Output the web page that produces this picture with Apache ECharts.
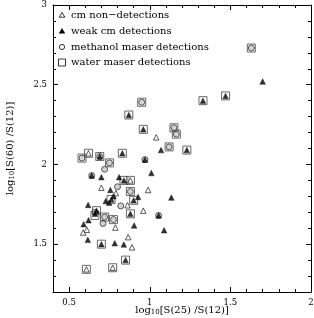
<!DOCTYPE html>
<html><head><meta charset="utf-8">
<script src="https://cdn.jsdelivr.net/npm/echarts@6/dist/echarts.min.js"></script>
<style>html,body{margin:0;padding:0;background:#fff}#c{width:314px;height:318px}</style>
</head><body><div id="c"></div>
<script>
// ---- data ----
const seriesNames = ['cm non\u2212detections', 'weak cm detections', 'methanol maser detections', 'water maser detections'];
const xMajorTicks = [0.5, 1, 1.5, 2];
const yMajorTicks = [1.5, 2, 2.5, 3];
const xRange = [0.4, 2.0];
const yRange = [1.2, 3.0];

const cmNonDetections = [
  [1.04,2.17],[0.62,2.07],[0.70,1.854],[0.88,1.90],[0.99,1.84],[0.79,1.82],[0.862,1.744],
  [0.96,1.71],[0.787,1.604],[0.61,1.59],[0.587,1.573],[0.866,1.544],[0.89,1.48],
  [0.77,1.352],[0.607,1.342]
];
const weakCmDetections = [
  [1.70,2.52],[1.47,2.43],[1.33,2.40],[0.87,2.31],[0.96,2.22],[1.23,2.09],[1.07,2.09],
  [0.83,2.07],[0.69,2.05],[0.97,2.03],[1.01,1.946],[0.64,1.93],[0.70,1.92],[0.81,1.92],
  [0.84,1.90],[0.756,1.84],[0.775,1.80],[0.727,1.77],[0.748,1.76],[0.762,1.78],[0.90,1.775],
  [0.928,1.796],[1.134,1.792],[0.88,1.69],[1.055,1.68],[0.618,1.746],[0.67,1.71],[0.66,1.69],
  [0.903,1.617],[1.089,1.587],[0.62,1.65],[0.59,1.625],[0.616,1.527],[0.70,1.50],
  [0.783,1.506],[0.839,1.498],[0.85,1.40]
];
const methanolMaser = [
  [1.63,2.73],[0.95,2.39],[1.15,2.23],[1.165,2.19],[1.12,2.11],[0.58,2.04],[0.75,2.01],
  [0.72,1.97],[0.97,2.03],[0.64,1.93],[0.80,1.86],[0.88,1.83],[0.82,1.74],[1.055,1.68],
  [0.72,1.67],[0.71,1.63],[0.775,1.654],[0.69,2.05],[0.66,1.70]
];
const waterMaser = [
  [1.63,2.73],[1.47,2.43],[1.33,2.40],[0.95,2.39],[0.87,2.31],[0.96,2.22],[1.15,2.23],
  [1.165,2.19],[1.12,2.11],[1.23,2.09],[0.83,2.07],[0.69,2.05],[0.62,2.07],[0.58,2.04],
  [0.75,2.01],[0.84,1.90],[0.88,1.90],[0.88,1.83],[0.76,1.78],[0.90,1.775],[0.88,1.69],
  [0.67,1.71],[0.66,1.68],[0.72,1.67],[0.775,1.654],[0.70,1.50],[0.85,1.40],[0.77,1.352],
  [0.607,1.342]
];

// ---- chart ----
function minorTicks(r){const a=[];for(let v=Math.round(r[0]*10);v<=Math.round(r[1]*10);v++)a.push(v/10);return a;}
const xMinor = minorTicks(xRange), yMinor = minorTicks(yRange);
const FONT = 'DejaVu Serif';
const lineCol = '#000';

function mkAxis(pos, range, ticks, len, label, line, nameCfg){
  const ax = {
    type:'value', position:pos, min:range[0], max:range[1],
    axisLine:{show:line, onZero:false, lineStyle:{color:lineCol, width:1}},
    axisTick:{show:true, inside:true, length:len, customValues:ticks, lineStyle:{color:lineCol, width:1}},
    axisLabel:{show:label, customValues:ticks, color:'#000', fontFamily:FONT, fontSize:8.5, margin:6},
    splitLine:{show:false}
  };
  if (nameCfg) Object.assign(ax, nameCfg);
  return ax;
}
const richName = {
  n:{fontFamily:FONT, fontSize:10, color:'#000'},
  s:{fontFamily:FONT, fontSize:7, color:'#000', padding:[4,0,0,0]}
};
const xAxes = [
  mkAxis('bottom',xRange,xMajorTicks,5,true,true,{
    name:'{n|log}{s|10}{n|[S(25) /S(12)]}', nameLocation:'middle', nameGap:13, nameMoveOverlap:false,
    nameTextStyle:{rich:richName}}),
  mkAxis('bottom',xRange,xMinor,3,false,false),
  mkAxis('top',xRange,xMajorTicks,5,false,true),
  mkAxis('top',xRange,xMinor,3,false,false)
];
const yAxes = [
  mkAxis('left',yRange,yMajorTicks,5,true,true,{
    name:'{n|log}{s|10}{n|[S(60) /S(12)]}', nameLocation:'middle', nameGap:37, nameRotate:90, nameMoveOverlap:false,
    nameTextStyle:{rich:richName}}),
  mkAxis('left',yRange,yMinor,3,false,false),
  mkAxis('right',yRange,yMajorTicks,5,false,true),
  mkAxis('right',yRange,yMinor,3,false,false)
];

const styles = [
  {symbol:'triangle', size:5.5, item:{color:'#fff', borderColor:'#000', borderWidth:0.8}, data:cmNonDetections, z:4},
  {symbol:'triangle', size:5.5, item:{color:'#000', borderColor:'#000', borderWidth:0.5}, data:weakCmDetections, z:5},
  {symbol:'circle', size:6, item:{color:'rgba(160,160,160,0.6)', borderColor:'#333', borderWidth:1}, data:methanolMaser, z:3},
  {symbol:'rect', size:8, item:{color:'rgba(0,0,0,0)', borderColor:'#444', borderWidth:1}, data:waterMaser, z:2}
];
const series = styles.map((s,i)=>({
  name:seriesNames[i], type:'scatter', xAxisIndex:0, yAxisIndex:0,
  symbol:s.symbol, symbolSize:s.size, itemStyle:s.item, z:s.z,
  data:s.data, animation:false, emphasis:{disabled:true}
}));

// legend drawn as graphic elements (symbol + label)
const LX = 62, TX = 71, rowsY = [15, 31, 47, 62.5];
const legendGraphics = [
  {type:'polygon', shape:{points:[[LX,rowsY[0]-2.6],[LX-2.8,rowsY[0]+2.2],[LX+2.8,rowsY[0]+2.2]]},
   style:{fill:'#fff', stroke:'#000', lineWidth:0.8}},
  {type:'polygon', shape:{points:[[LX,rowsY[1]-2.6],[LX-2.8,rowsY[1]+2.2],[LX+2.8,rowsY[1]+2.2]]},
   style:{fill:'#000', stroke:'#000', lineWidth:0.5}},
  {type:'circle', shape:{cx:LX, cy:rowsY[2], r:2.6}, style:{fill:'#fff', stroke:'#000', lineWidth:0.8}},
  {type:'rect', shape:{x:LX-3.5, y:rowsY[3]-3.5, width:7, height:7}, style:{fill:'#fff', stroke:'#000', lineWidth:0.8}}
];
seriesNames.forEach((nm,i)=>legendGraphics.push({
  type:'text', x:TX, y:rowsY[i],
  style:{text:nm, fill:'#000', font:'10px "DejaVu Serif"', textVerticalAlign:'middle', textAlign:'left'}
}));

const chart = echarts.init(document.getElementById('c'), null, {renderer:'canvas'});
chart.setOption({
  animation:false,
  backgroundColor:'#fff',
  grid:{left:53, right:3, top:5, bottom:26, containLabel:false, outerBoundsMode:'none'},
  xAxis:xAxes, yAxis:yAxes,
  series:series,
  graphic:legendGraphics
});
</script></body></html>
